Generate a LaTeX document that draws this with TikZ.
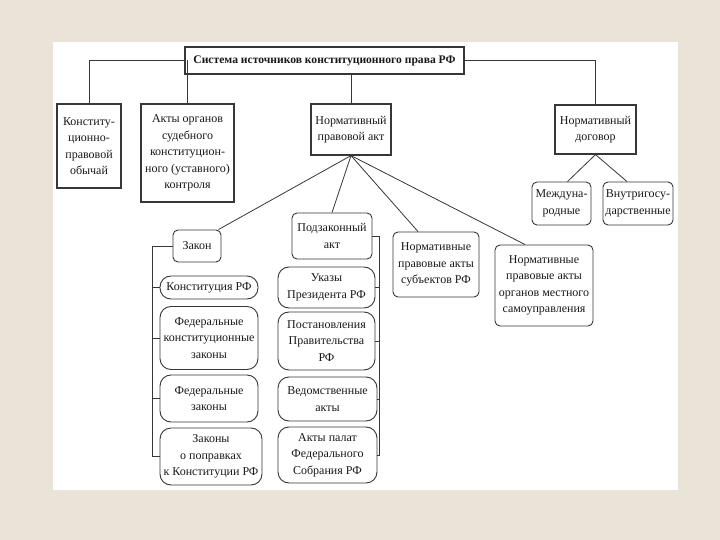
\documentclass[tikz,border=0pt]{standalone}
\usepackage{fontspec}
\setmainfont{Liberation Serif}
\usetikzlibrary{calc}
\definecolor{bgc}{RGB}{233,227,216}
\definecolor{linec}{RGB}{55,55,55}
\begin{document}
\begin{tikzpicture}[x=1pt,y=-1pt,
  every node/.style={align=center,inner sep=0pt,font=\fontsize{12}{16.5}\selectfont,text=black!90},
  mainbox/.style={draw=linec,line width=1.2pt,fill=white},
  subbox/.style={draw=linec,line width=0.9pt,fill=white,rounded corners=5pt},
  pill/.style={draw=linec,line width=0.9pt,fill=white,rounded corners=11pt},
  conn/.style={draw=linec,line width=0.8pt}]
\fill[bgc] (0,0) rectangle (720,540);
\fill[white] (53,42) rectangle (678,490);
\useasboundingbox (0,0) rectangle (720,540);

\node[mainbox,minimum width=279,minimum height=27,font=\fontsize{11.6}{13}\selectfont\bfseries] (title) at (324.5,60.5) {Система источников конституционного права РФ};
\node[mainbox,minimum width=64,minimum height=84] (b1) at (89,146) {Конститу-\\ционно-\\правовой\\обычай};
\node[mainbox,minimum width=93,minimum height=98] (b2) at (187.5,153) {Акты органов\\судебного\\конституцион-\\ного (уставного)\\контроля};
\node[mainbox,minimum width=80,minimum height=51] (b3) at (351,129.5) {Нормативный\\правовой акт};
\node[mainbox,minimum width=81,minimum height=49] (b4) at (595.5,129.5) {Нормативный\\договор};

\node[subbox,minimum width=59,minimum height=43] (mezh) at (561.5,203.5) {Междуна-\\родные};
\node[subbox,minimum width=70,minimum height=43] (vnut) at (638,203.5) {Внутригосу-\\дарственные};

\node[subbox,minimum width=48,minimum height=32] (zakon) at (197,246) {Закон};
\node[subbox,minimum width=80,minimum height=46] (podz) at (332,236) {Подзаконный\\акт};
\node[subbox,minimum width=86,minimum height=65] (subj) at (436,264.5) {Нормативные\\правовые акты\\субъектов РФ};
\node[subbox,minimum width=98,minimum height=81] (mest) at (544,285.5) {Нормативные\\правовые акты\\органов местного\\самоуправления};

\node[pill,minimum width=98,minimum height=23] (konst) at (209,287.5) {Конституция РФ};
\node[pill,minimum width=98,minimum height=63] (fkz) at (209,338) {Федеральные\\конституционные\\законы};
\node[pill,minimum width=98,minimum height=47] (fz) at (209,398.5) {Федеральные\\законы};
\node[pill,minimum width=102,minimum height=57] (popr) at (211,456.5) {Законы\\о поправках\\к Конституции РФ};

\node[pill,minimum width=97,minimum height=41] (ukaz) at (326.5,287.5) {Указы\\Президента РФ};
\node[pill,minimum width=97,minimum height=58] (post) at (326.5,341) {Постановления\\Правительства\\РФ};
\node[pill,minimum width=99,minimum height=44] (ved) at (327.5,399) {Ведомственные\\акты};
\node[pill,minimum width=99,minimum height=56] (palat) at (327.5,455) {Акты палат\\Федерального\\Собрания РФ};

% top level connectors
\draw[conn] (title.west) -| (b1.north);
\draw[conn] (b2.north) -- (b2.north |- title.west);
\draw[conn] (b3.north) -- (b3.north |- title.south);
\draw[conn] (title.east) -| (b4.north);

% fan from normative act
\coordinate (apex) at (b3.south);
\coordinate (tz) at ($(zakon.north east)+(-3,0)$);
\coordinate (tp) at (podz.north);
\coordinate (ts) at ($(subj.north)+(-18,0)$);
\coordinate (tm) at ($(mest.north)+(-19,0)$);
\draw[conn] (apex) -- (tz);
\draw[conn] (apex) -- (tp);
\draw[conn] (apex) -- (ts);
\draw[conn] (apex) -- (tm);

% treaty
\draw[conn] (b4.south) -- ($(mezh.north)+(6,0)$);
\draw[conn] (b4.south) -- ($(vnut.north)+(-11,0)$);

% left bracket
\coordinate (zl) at (152,246);
\draw[conn] (zakon.west) -- (zl) |- (popr.west);
\draw[conn] (konst.west) -- (konst.west -| zl);
\draw[conn] (fkz.west) -- (fkz.west -| zl);
\draw[conn] (fz.west) -- (fz.west -| zl);

% right bracket
\coordinate (pr) at (379,236);
\draw[conn] (podz.east) -- (pr) |- (palat.east);
\draw[conn] (ukaz.east) -- (ukaz.east -| pr);
\draw[conn] (post.east) -- (post.east -| pr);
\draw[conn] (ved.east) -- (ved.east -| pr);
\end{tikzpicture}
\end{document}
